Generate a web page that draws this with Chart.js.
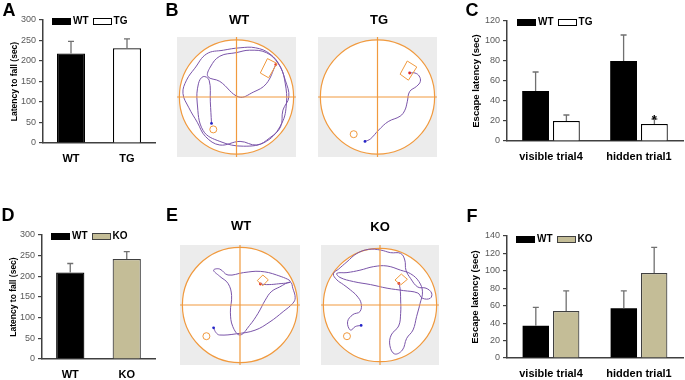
<!DOCTYPE html>
<html>
<head>
<meta charset="utf-8">
<script src="https://cdn.jsdelivr.net/npm/chart.js@4.4.1/dist/chart.umd.min.js"></script>
<style>
  body { margin: 0; background: #fff; font-family: 'Liberation Sans', Arial, sans-serif; }
  #fig { position: relative; width: 685px; height: 380px; overflow: hidden; }
  canvas { position: absolute; }
  .txt { position: absolute; transform: translate(-50%, -50%); line-height: 1; font-weight: bold; color: #000; white-space: nowrap; }
  .legend { position: absolute; display: flex; align-items: center; transform: translateY(-50%); }
  .legend .box { width: 19px; height: 7px; box-sizing: border-box; }
  .legend span { font-size: 10px; font-weight: bold; margin: 0 4px 0 2px; line-height: 1; }
</style>
</head>
<body>
<div id="fig">
  <canvas id="chartA" width="165" height="175" style="left:0;top:0"></canvas>
  <canvas id="chartC" width="225" height="175" style="left:460px;top:0"></canvas>
  <canvas id="chartD" width="165" height="190" style="left:0;top:190px"></canvas>
  <canvas id="chartF" width="225" height="190" style="left:460px;top:190px"></canvas>
  <canvas id="mazeB1" width="119" height="120" style="left:177px;top:37px"></canvas>
  <canvas id="mazeB2" width="119" height="120" style="left:318px;top:37px"></canvas>
  <canvas id="mazeE1" width="120" height="120" style="left:180px;top:245px"></canvas>
  <canvas id="mazeE2" width="118" height="120" style="left:321px;top:245px"></canvas>
</div>
<script>
// rotarod (panels A, D)
var fallGroupsTG = ['WT', 'TG'];
var fallMeanTG = [218, 231];
var fallErrTG = [30, 23];
var fallGroupsKO = ['WT', 'KO'];
var fallMeanKO = [209, 242];
var fallErrKO = [22, 18];
var fallMax = 300, fallStep = 50;

// water maze escape latency (panels C, F)
var trialLabels = ['visible trial4', 'hidden trial1'];
var escWT_C = [50, 80];
var escWT_C_err = [19, 26];
var escTG = [20, 17];
var escTG_err = [6, 5];
var escTG_sig = ['', '*'];
var escMaxC = 120;
var escWT_F = [37, 57];
var escWT_F_err = [21, 20];
var escKO = [54, 97.5];
var escKO_err = [23, 29.5];
var escMaxF = 140, escStep = 20;

// swim tracks (panels B, E), arena units 0..100, y downwards
var arenaCenter = [50, 50], arenaRadius = 48;
var crossH = [[0, 50], [100, 50]];
var crossV = [[50, 0], [50, 100]];

var trackB_WT = [[29,72],[28,54],[27,36],[22,33],[18,39],[17,55],[22,78],[36,87],[56,91],[75,87],[88,72],[92,55],[91,39],[87,25],[78,14],[66,9],[53,9],[39,11],[25,14],[15,26],[8,36],[5,47],[10,59],[17,71],[24,83],[36,90],[53,87],[67,90],[78,84],[87,75],[89,61],[94,50],[91,36],[85,22],[75,13],[61,11],[50,13],[36,16],[28,25],[26,33],[36,37],[52,50],[64,46],[75,39],[83,23]];
var platB_WT = [[76,18],[84,22],[77,34],[70,30]];
var startB_WT = [30.5, 77];

var trackB_TG = [[39.5,87],[44,85],[51,77.5],[59,70.5],[69,66],[73,61],[75,54],[77,45.5],[83,41],[86,37],[85,32.5],[81.5,30],[77,30]];
var platB_TG = [[75,20],[83,25],[76,36],[69,31]];
var startB_TG = [30, 81];

var trackE_WT = [[28,69],[30,73],[33,75],[47,74],[62.5,71],[75,64],[86,55.5],[94,48.6],[96,44],[94,36],[92,31],[83,35],[76,39],[71,46],[65,57],[58,67],[50,75],[44,68],[42,56],[43,42],[40,32],[33,26],[28,21],[33,20],[40,25],[53,23],[67,22],[80.5,25],[92,30.5],[80.5,32.5],[72,33],[67,32.5]];
var platE_WT = [[69,25],[73.6,29],[69,34],[64.4,29.7]];
var startE_WT = [22, 76];

var trackE_KO = [[34,67],[29,68],[25,71],[22.5,64],[27,58],[33,55.5],[34,48.6],[30.5,42.5],[25,37.5],[19,33],[13.4,29],[10.5,24],[15,20],[22,14],[30.5,7],[40.5,3.6],[50.4,4.2],[59,6.4],[67.5,7],[71,12.5],[72,21],[76,28],[82,35],[89,36],[93.7,40],[92.6,44.4],[86,44.4],[82,40],[70,38],[56,36],[42,33],[27.6,30.5],[16,27],[13.4,23.6],[22,23],[33,21],[44.7,18],[56,17.5],[67.5,21],[76,24],[83,30.5],[86,39],[84,48.6],[81,59.7],[78,70.8],[72.6,77.8],[69,87.5],[62.4,90.8],[58.4,84],[59.5,75],[65.8,67.5],[67.5,57],[67.5,45.8],[67,36],[66,32]];
var platE_KO = [[68.1,24.2],[73.2,28.6],[67.5,33.3],[62.7,29.2]];
var startE_KO = [22, 76];

var FONT = "'Liberation Sans', Arial, sans-serif";
var axisColor = '#404040';
var orange = '#f19a3e';
var purple = '#7b55aa';
var tan = '#c4bd97';

var fig = document.getElementById('fig');
function addText(str, cx, cy, size) {
  var d = document.createElement('div');
  d.className = 'txt';
  d.textContent = str;
  d.style.left = cx + 'px';
  d.style.top = cy + 'px';
  d.style.fontSize = size + 'px';
  fig.appendChild(d);
}
function addLegend(left, cy, names, fills, borders) {
  var d = document.createElement('div');
  d.className = 'legend';
  d.style.left = left + 'px';
  d.style.top = cy + 'px';
  for (var i = 0; i < names.length; i++) {
    var b = document.createElement('div');
    b.className = 'box';
    b.style.background = fills[i];
    if (borders[i]) b.style.border = '1px solid ' + borders[i];
    var s = document.createElement('span');
    s.textContent = names[i];
    d.appendChild(b);
    d.appendChild(s);
  }
  fig.appendChild(d);
}

var errorBars = {
  id: 'errorBars',
  afterDatasetsDraw: function(chart) {
    var ctx = chart.ctx, ys = chart.scales.y;
    chart.data.datasets.forEach(function(ds, i) {
      if (!ds.errors) return;
      chart.getDatasetMeta(i).data.forEach(function(bar, j) {
        var top = ys.getPixelForValue(ds.data[j] + ds.errors[j]);
        ctx.save();
        ctx.strokeStyle = '#707070';
        ctx.lineWidth = 1.3;
        ctx.beginPath();
        ctx.moveTo(bar.x, bar.y);
        ctx.lineTo(bar.x, top);
        ctx.moveTo(bar.x - 3, top);
        ctx.lineTo(bar.x + 3, top);
        ctx.stroke();
        if (ds.marks && ds.marks[j]) {
          ctx.fillStyle = '#000';
          ctx.font = 'bold 13px ' + FONT;
          ctx.textAlign = 'center';
          ctx.fillText(ds.marks[j], bar.x, top + 5);
        }
        ctx.restore();
      });
    });
  }
};

function barChart(id, labels, datasets, cfg) {
  return new Chart(document.getElementById(id), {
    type: 'bar',
    data: { labels: labels, datasets: datasets },
    options: {
      responsive: false,
      animation: false,
      layout: { padding: { top: cfg.padTop, right: cfg.padRight, left: 0, bottom: 0 } },
      categoryPercentage: cfg.catPct,
      barPercentage: cfg.barPct,
      plugins: { legend: { display: false }, tooltip: { enabled: false } },
      scales: {
        x: {
          grid: { display: false },
          border: { display: true, color: axisColor, width: 1.5 },
          ticks: { color: '#000', font: { family: FONT, size: 11, weight: 'bold' }, padding: 1 },
          afterFit: function(s) { s.height = cfg.xH; }
        },
        y: {
          min: 0, max: cfg.max,
          ticks: { stepSize: cfg.step, color: '#595959', font: { family: FONT, size: 9 }, padding: 3 },
          grid: { drawOnChartArea: false, drawTicks: true, tickLength: 4, color: axisColor, lineWidth: 1.2 },
          border: { display: true, color: axisColor, width: 1.5 },
          title: { display: true, text: cfg.title, color: '#000', font: { family: FONT, size: cfg.titleSize, weight: 'bold' }, padding: { top: cfg.titlePad, bottom: 0 } },
          afterFit: function(s) { s.width = cfg.yW; }
        }
      }
    },
    plugins: [errorBars]
  });
}

// A
barChart('chartA', fallGroupsTG, [{
  data: fallMeanTG, errors: fallErrTG,
  backgroundColor: ['#000', '#fff'], borderColor: ['#000', '#000'], borderWidth: 1.2
}], { padTop: 20, padRight: 10, xH: 32, yW: 43, max: fallMax, step: fallStep, catPct: 0.5, barPct: 1,
      title: 'Latency to fall (sec)', titleSize: 8.5, titlePad: 10 });

// D
barChart('chartD', fallGroupsKO, [{
  data: fallMeanKO, errors: fallErrKO,
  backgroundColor: ['#000', tan], borderColor: ['#000', axisColor], borderWidth: 1.2
}], { padTop: 45, padRight: 10, xH: 21, yW: 42, max: fallMax, step: fallStep, catPct: 0.5, barPct: 1,
      title: 'Latency to fall (sec)', titleSize: 8.5, titlePad: 9 });

// C
barChart('chartC', trialLabels, [
  { label: 'WT', data: escWT_C, errors: escWT_C_err, backgroundColor: '#000' },
  { label: 'TG', data: escTG, errors: escTG_err, marks: escTG_sig, backgroundColor: '#fff', borderColor: '#000', borderWidth: 1.2 }
], { padTop: 21, padRight: 2, xH: 34, yW: 47, max: escMaxC, step: escStep, catPct: 0.7, barPct: 0.87,
     title: 'Escape latency (sec)', titleSize: 9.5, titlePad: 11 });

// F
barChart('chartF', trialLabels, [
  { label: 'WT', data: escWT_F, errors: escWT_F_err, backgroundColor: '#000' },
  { label: 'KO', data: escKO, errors: escKO_err, backgroundColor: tan, borderColor: axisColor, borderWidth: 1.2 }
], { padTop: 46, padRight: 2, xH: 22, yW: 47, max: escMaxF, step: escStep, catPct: 0.69, barPct: 0.87,
     title: 'Escape latency (sec)', titleSize: 9.5, titlePad: 10 });

// maze tracks
var arena = {
  id: 'arena',
  beforeDatasetsDraw: function(chart) {
    var ctx = chart.ctx, a = chart.chartArea, xs = chart.scales.x, ys = chart.scales.y;
    ctx.save();
    ctx.fillStyle = '#ececec';
    ctx.fillRect(a.left, a.top, a.width, a.height);
    var cx = xs.getPixelForValue(arenaCenter[0]);
    var cy = ys.getPixelForValue(arenaCenter[1]);
    var r = xs.getPixelForValue(arenaCenter[0] + arenaRadius) - cx;
    ctx.beginPath();
    ctx.arc(cx, cy, r, 0, Math.PI * 2);
    ctx.fillStyle = '#fff';
    ctx.fill();
    ctx.strokeStyle = orange;
    ctx.lineWidth = 1.2;
    ctx.stroke();
    ctx.restore();
  }
};

function pts(arr) { return arr.map(function(p) { return { x: p[0], y: p[1] }; }); }

function mazeChart(id, track, platform, start) {
  var n = track.length;
  return new Chart(document.getElementById(id), {
    type: 'scatter',
    data: { datasets: [
      { data: pts(crossH), showLine: true, borderColor: orange, borderWidth: 1.2, pointRadius: 0 },
      { data: pts(crossV), showLine: true, borderColor: orange, borderWidth: 1.2, pointRadius: 0 },
      { data: pts(platform.concat([platform[0]])), showLine: true, borderColor: orange, borderWidth: 1, pointRadius: 0 },
      { data: pts([start]), pointRadius: 3.5, borderColor: orange, borderWidth: 1, backgroundColor: 'rgba(0,0,0,0)' },
      { data: pts(track), showLine: true, borderColor: purple, borderWidth: 1, tension: 0.4,
        pointRadius: function(c) { return (c.dataIndex === 0 || c.dataIndex === n - 1) ? 1.4 : 0; },
        pointBackgroundColor: function(c) { return c.dataIndex === 0 ? '#2424c8' : '#e02828'; },
        pointBorderWidth: 0 }
    ] },
    options: {
      responsive: false,
      animation: false,
      layout: { padding: 0, autoPadding: false },
      plugins: { legend: { display: false }, tooltip: { enabled: false } },
      scales: {
        x: { type: 'linear', min: 0, max: 100, display: false },
        y: { type: 'linear', min: 0, max: 100, reverse: true, display: false }
      }
    },
    plugins: [arena]
  });
}

mazeChart('mazeB1', trackB_WT, platB_WT, startB_WT);
mazeChart('mazeB2', trackB_TG, platB_TG, startB_TG);
mazeChart('mazeE1', trackE_WT, platE_WT, startE_WT);
mazeChart('mazeE2', trackE_KO, platE_KO, startE_KO);

// panel letters and titles
addText('A', 9, 10, 18);
addText('B', 172, 10, 18);
addText('C', 472, 10, 18);
addText('D', 8, 215, 18);
addText('E', 172, 215, 18);
addText('F', 472, 216, 18);
addText('WT', 239, 19, 13);
addText('TG', 379, 19, 13);
addText('WT', 241, 225, 13);
addText('KO', 380, 226, 13);

addLegend(52, 21, ['WT', 'TG'], ['#000', '#fff'], [null, '#000']);
addLegend(517, 22, ['WT', 'TG'], ['#000', '#fff'], [null, '#000']);
addLegend(51, 236, ['WT', 'KO'], ['#000', tan], [null, axisColor]);
addLegend(516, 239, ['WT', 'KO'], ['#000', tan], [null, axisColor]);
</script>
</body>
</html>
